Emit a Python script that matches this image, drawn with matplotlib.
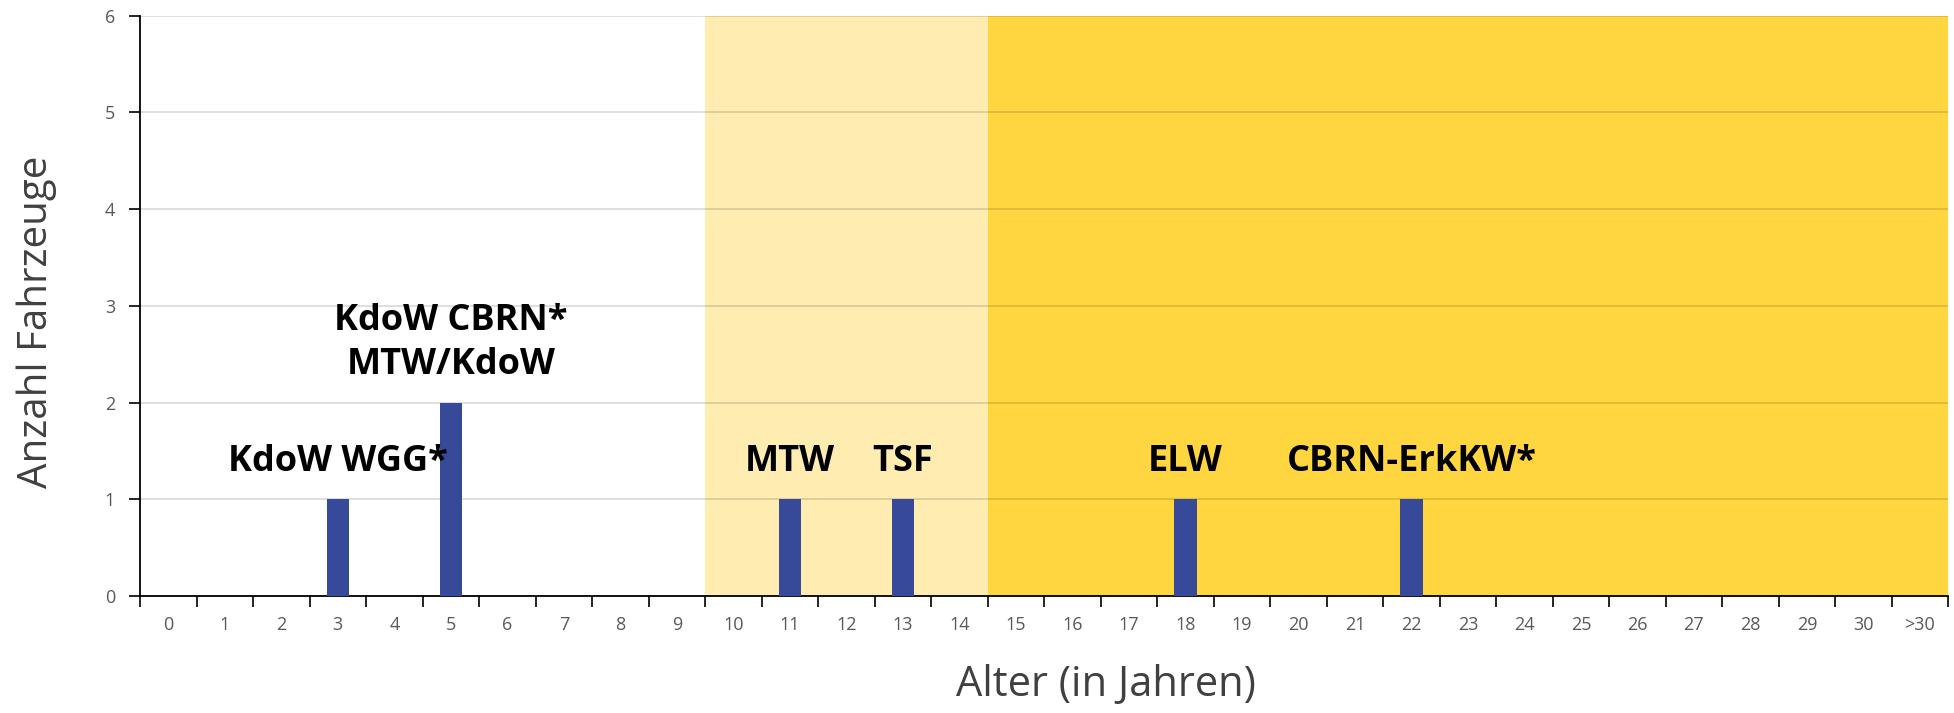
import matplotlib
matplotlib.use("Agg")
import matplotlib.pyplot as plt
import numpy as np

# Daten
alter = [str(i) for i in range(31)] + [">30"]
anzahl = [0, 0, 0, 1, 0, 2, 0, 0, 0, 0,
          0, 1, 0, 1, 0, 0, 0, 0, 1, 0,
          0, 0, 1, 0, 0, 0, 0, 0, 0, 0, 0, 0]
beschriftung_pos = [3, 5, 11, 13, 18, 22]
beschriftung_text = ["KdoW WGG*", "KdoW CBRN*\nMTW/KdoW", "MTW", "TSF", "ELW", "CBRN-ErkKW*"]
beschriftung_y = [1.39, 2.62, 1.39, 1.39, 1.39, 1.39]

fig = plt.figure(figsize=(19.54, 7.13), dpi=100)
ax = fig.add_axes([0.0717, 0.164, 0.9253, 0.814])

x = np.arange(len(alter))
ax.set_xlim(-0.5, len(alter) - 0.5)
ax.set_ylim(0, 6)

# Hintergrundbereiche
ax.axvspan(9.5, 14.5, color="#FEECB0", zorder=0, lw=0)
ax.axvspan(14.5, len(alter) - 0.5, color="#FFD640", zorder=0, lw=0)

ax.set_yticks(range(7))
ax.yaxis.grid(True, color="black", alpha=0.15, lw=1.2, zorder=1)
ax.set_axisbelow(False)

ax.bar(x, anzahl, width=0.4, color="#374A9A", zorder=3)

for xp, t, yp in zip(beschriftung_pos, beschriftung_text, beschriftung_y):
    ax.text(xp, yp, t, ha="center", va="center", fontsize=26, fontweight="bold",
            family="Open Sans", color="black", linespacing=1.3, zorder=4)

# Achsen
for s in ["top", "right"]:
    ax.spines[s].set_visible(False)
ax.spines["left"].set_color("black")
ax.spines["bottom"].set_color("black")
ax.spines["left"].set_linewidth(1.3)
ax.spines["bottom"].set_linewidth(1.3)

ax.set_xticks(x)
ax.set_xticklabels(alter)
ax.set_xticks(np.arange(-0.5, len(alter), 1), minor=True)
ax.tick_params(axis="x", which="major", length=0, pad=14, labelsize=13, labelcolor="#595959")
ax.tick_params(axis="x", which="minor", length=8, width=1.2, color="black")
ax.tick_params(axis="y", length=8, width=1.2, color="black", labelsize=13, labelcolor="#595959", pad=10)
for lbl in ax.get_xticklabels() + ax.get_yticklabels():
    lbl.set_family("Open Sans")

ax.set_xlabel("Alter (in Jahren)", fontsize=30, color="#404040", family="Open Sans", va="center")
ax.set_ylabel("Anzahl Fahrzeuge", fontsize=29, color="#404040", family="Open Sans", va="center")
ax.xaxis.set_label_coords(0.534, -0.153)
ax.yaxis.set_label_coords(-0.057, 0.472)

fig.savefig("out.png", dpi=100)
